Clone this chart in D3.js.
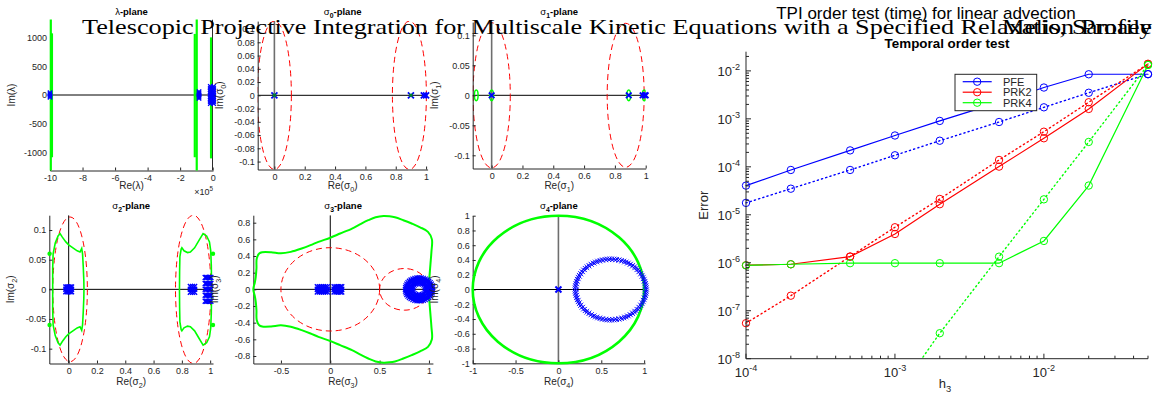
<!DOCTYPE html>
<html><head><meta charset="utf-8">
<script src="https://cdn.jsdelivr.net/npm/d3@7"></script>
<style>body{margin:0;background:#fff}</style>
</head><body>
<svg id="c" width="1159" height="399" xmlns="http://www.w3.org/2000/svg"></svg>
<script>
// ================= DATA =================
// Right chart: temporal order test
const hValues   = [1e-4, 2e-4, 5e-4, 1e-3, 2e-3, 5e-3, 1e-2, 2e-2, 5e-2];
const pfeSolid   = [4.06e-5, 8.6e-5, 2.2e-4, 4.5e-4, 9.06e-4, 2.2e-3, 4.5e-3, 8.5e-3, 8.5e-3];
const pfeDotted  = [1.77e-5, 3.5e-5, 8.6e-5, 1.74e-4, 3.5e-4, 8.6e-4, 1.74e-3, 3.5e-3, 8.6e-3];
const prk2Solid  = [8.9e-7, 9.3e-7, 1.34e-6, 3.98e-6, 1.66e-5, 1.01e-4, 3.94e-4, 1.61e-3, 1.4e-2];
const prk2Dotted = [5.5e-8, 2.06e-7, 1.35e-6, 5.5e-6, 2.14e-5, 1.39e-4, 5.4e-4, 2.22e-3, 1.4e-2];
const prk4Solid  = [8.8e-7, 9.3e-7, 9.8e-7, 9.8e-7, 9.8e-7, 9.8e-7, 2.85e-6, 4.07e-5, 1.33e-2];
const prk4Dotted = [4e-13, 6e-12, 1e-10, 1.6e-9, 3.4e-8, 1.34e-6, 2.1e-5, 3.3e-4, 1.33e-2];
const legendNames = ["PFE", "PRK2", "PRK4"];
const xMajorTicks = [1e-4, 1e-3, 1e-2];
const yMajorTicks = [1e-8, 1e-7, 1e-6, 1e-5, 1e-4, 1e-3, 1e-2];

// lambda-plane (Re in units of 1e5)
const lambdaGreenLines = [[-10, -1310, 1310], [-9.88, -1080, 1070], [-0.98, -1310, 1310], [-1.1, -1080, 1060], [-0.1, -1100, 1000]];
const lambdaEigClusters = [
  {re: -10,   im: [-40, -20, 0, 20, 40]},
  {re: -0.84, im: [-60, -40, -20, 0, 20, 40, 60]},
  {re: -0.15, im: [-150, -120, -90, -60, -30, 0, 30, 60, 90, 120, 150]},
  {re: 0.06,  im: [-150, -120, -90, -60, -30, 0, 30, 60, 90, 120, 150]}
];
// sigma_0-plane
const sigma0Circles = [{cx: 0, r: 0.112}, {cx: 0.89, r: 0.112}];
const sigma0Eig = [[0, 0], [0.9, 0], [0.985, 0], [1.0, 0]];
// sigma_1-plane
const sigma1Circles = [{cx: 0, r: 0.121}, {cx: 0.87, r: 0.12}];
const sigma1Loops = [{cx: -0.1, rx: 0.012, ry: 0.009}, {cx: 0, rx: 0.012, ry: 0.009}, {cx: 0.89, rx: 0.012, ry: 0.009}, {cx: 0.99, rx: 0.012, ry: 0.009}];
const sigma1Eig = [[0, 0], [0.89, 0], [0.98, 0], [0.995, 0], [1.0, 0]];
// sigma_2-plane
const sigma2Circles = [{cx: 0.01, r: 0.122}, {cx: 0.88, r: 0.125}];
const sigma2LeftUpper = [[-0.113,0],[-0.113,0.035],[-0.11,0.06],[-0.095,0.078],[-0.075,0.09],[-0.061,0.094],[-0.045,0.088],[-0.02,0.08],[0,0.075],[0.03,0.07],[0.06,0.065],[0.08,0.063],[0.092,0.069],[0.098,0.06],[0.103,0.038],[0.107,0.015],[0.108,0]];
const sigma2RightUpper = [[0.783,0],[0.784,0.03],[0.786,0.055],[0.795,0.068],[0.80,0.07],[0.815,0.065],[0.84,0.062],[0.86,0.063],[0.89,0.07],[0.92,0.082],[0.95,0.094],[0.975,0.09],[0.995,0.08],[1.004,0.065],[1.008,0.04],[1.01,0]];
const sigma2Dots = [[-0.135, 0.06], [-0.135, -0.06], [1.02, 0.06], [1.02, -0.06]];
const sigma2EigClusters = [
  {re: [-0.02, -0.01, 0, 0.01, 0.02], im: [-0.004, 0, 0.004]},
  {re: [0.86, 0.875, 0.89], im: [-0.005, 0, 0.005]},
  {re: [0.965, 0.975, 0.985, 0.995, 1.005], im: [-0.02, -0.01, 0, 0.01, 0.02]}
];
// sigma_3-plane
const sigma3Circles = [{cx: 0, r: 0.5}, {cx: 0.75, r: 0.25}];
const sigma3GreenUpper = [[-0.78,0],[-0.765,0.08],[-0.755,0.15],[-0.748,0.25],[-0.745,0.37],[-0.72,0.43],[-0.69,0.445],[-0.6,0.445],[-0.5,0.432],[-0.4,0.45],[-0.29,0.49],[-0.2,0.53],[-0.12,0.57],[0,0.62],[0.1,0.67],[0.22,0.73],[0.3,0.78],[0.385,0.83],[0.46,0.865],[0.54,0.88],[0.6,0.876],[0.655,0.865],[0.74,0.83],[0.825,0.79],[0.91,0.745],[0.99,0.69],[1.03,0.6],[1.025,0.45],[1.015,0.3],[1.005,0.15],[1.0,0.05],[1.0,0]];
const sigma3EigClusters = [
  {re: [-0.13, -0.11, -0.09, -0.07, -0.05, -0.03], im: [-0.03, 0, 0.03]},
  {re: [0.04, 0.06, 0.08, 0.1, 0.115], im: [-0.03, 0, 0.03]}
];
const sigma3EigRings = [{cx: 0.9, r: 0.07, n: 24}, {cx: 0.9, r: 0.095, n: 30}, {cx: 0.9, r: 0.12, n: 36}, {cx: 0.9, r: 0.14, n: 40}];
// sigma_4-plane
const sigma4Circles = [{cx: 0, r: 1}];
const sigma4EigRings = [{cx: 0.61, r: 0.40, n: 70}, {cx: 0.61, r: 0.42, n: 90}];
const sigma4Eig = [[0, 0]];

// ================= DRAWING =================
const svg = d3.select('#c');
const SANS = '"Liberation Sans", Arial, Helvetica, sans-serif';
const SERIF = '"Liberation Serif", "Times New Roman", serif';
const AX = '#262626';
const BLUE = '#0000ff', RED = '#ff0000', GREEN = '#00ff00';
const fmt = d => String(+(+d).toFixed(4));

function rich(sel, x, y, parts, size, opts = {}) {
  const t = sel.append('text').attr('x', x).attr('y', y)
    .attr('font-family', opts.family || SANS).attr('font-size', size)
    .attr('fill', opts.fill || AX).attr('text-anchor', opts.anchor || 'middle');
  if (opts.rotate) t.attr('transform', `rotate(-90,${x},${y})`);
  let shift = 0;
  parts.forEach(([s, type, w]) => {
    const ts = t.append('tspan').text(s);
    let target = 0, fs = size;
    if (type === 'sub') { target = size * 0.3; fs = size * 0.72; }
    if (type === 'sup') { target = -size * 0.45; fs = size * 0.7; }
    ts.attr('dy', target - shift).attr('font-size', fs);
    if (w) ts.attr('font-weight', w);
    shift = target;
  });
  return t;
}

let clipN = 0;
function panel(o) {
  const x = d3.scaleLinear().domain(o.xDom).range([o.left, o.right]);
  const y = d3.scaleLinear().domain(o.yDom).range([o.bottom, o.top]);
  const id = 'clp' + (clipN++);
  svg.append('clipPath').attr('id', id).append('rect')
    .attr('x', o.left).attr('y', o.top).attr('width', o.right - o.left).attr('height', o.bottom - o.top);
  const g = svg.append('g');
  const plot = g.append('g').attr('clip-path', `url(#${id})`);
  // zero lines
  plot.append('line').attr('x1', o.left).attr('x2', o.right).attr('y1', y(0)).attr('y2', y(0))
    .attr('stroke', '#000').attr('stroke-width', 1);
  plot.append('line').attr('x1', x(0)).attr('x2', x(0)).attr('y1', o.top).attr('y2', o.bottom)
    .attr('stroke', o.vColor || '#000').attr('stroke-width', o.vWidth || 1);
  // axes
  const xa = g.append('g').attr('transform', `translate(0,${o.bottom})`)
    .call(d3.axisBottom(x).tickValues(o.xTicks).tickFormat(fmt).tickSizeInner(-3).tickSizeOuter(0).tickPadding(4));
  const ya = g.append('g').attr('transform', `translate(${o.left},0)`)
    .call(d3.axisLeft(y).tickValues(o.yTicks).tickFormat(fmt).tickSizeInner(-3).tickSizeOuter(0).tickPadding(3));
  [xa, ya].forEach(a => {
    a.select('.domain').attr('stroke', AX);
    a.selectAll('.tick line').attr('stroke', AX);
    a.selectAll('text').attr('font-family', SANS).attr('font-size', 9).attr('fill', AX);
  });
  const cx = (o.left + o.right) / 2, cy = (o.top + o.bottom) / 2;
  rich(g, cx, o.titleY, o.title, 9.5, {fill: '#000'});
  rich(g, cx, o.xlabY, o.xlabel, 10);
  rich(g, o.left - 35, cy, o.ylabel, 10, {rotate: true});
  return {x, y, plot, g};
}

function xMarks(sel, pts, x, y, s, color, w) {
  sel.append('g').selectAll('path').data(pts).join('path')
    .attr('d', d => `M${x(d[0]) - s},${y(d[1]) - s}L${x(d[0]) + s},${y(d[1]) + s}M${x(d[0]) - s},${y(d[1]) + s}L${x(d[0]) + s},${y(d[1]) - s}`)
    .attr('stroke', color).attr('stroke-width', w).attr('fill', 'none');
}
function clusterPts(c) { const p = []; c.re.forEach(r => c.im.forEach(i => p.push([r, i]))); return p; }
function ringPts(rg) {
  const p = [];
  for (let k = 0; k < rg.n; k++) { const a = 2 * Math.PI * k / rg.n; p.push([rg.cx + rg.r * Math.cos(a), rg.r * Math.sin(a)]); }
  return p;
}
function redCircles(P, circles) {
  P.plot.append('g').selectAll('ellipse').data(circles).join('ellipse')
    .attr('cx', d => P.x(d.cx)).attr('cy', P.y(0))
    .attr('rx', d => P.x(d.cx + d.r) - P.x(d.cx)).attr('ry', d => P.y(0) - P.y(d.r))
    .attr('fill', 'none').attr('stroke', RED).attr('stroke-width', 1).attr('stroke-dasharray', '6,4');
}
function closedFromUpper(up) { return up.concat(up.slice().reverse().map(d => [d[0], -d[1]])); }

// ---------- Row 1 ----------
const A = panel({left: 50, right: 213, top: 19.5, bottom: 170.5, xDom: [-10, 0.02], yDom: [-1310, 1310],
  xTicks: [-10, -8, -6, -4, -2, 0], yTicks: [-1000, -500, 0, 500, 1000],
  title: [['λ'], ['-plane', null, 'bold']], titleY: 15,
  xlabel: [['Re(λ)']], xlabY: 189, ylabel: [['Im(λ)']]});
A.g.append('g').selectAll('line').data(lambdaGreenLines).join('line')
  .attr('x1', d => A.x(d[0]) + (d[0] === -10 ? 0.8 : 0)).attr('x2', d => A.x(d[0]) + (d[0] === -10 ? 0.8 : 0))
  .attr('y1', d => A.y(d[1])).attr('y2', d => A.y(d[2]))
  .attr('stroke', GREEN).attr('stroke-width', 2.2);
lambdaEigClusters.forEach(c => xMarks(A.g, c.im.map(i => [c.re, i]), A.x, A.y, 2.2, BLUE, 1.3));
rich(A.g, 213, 195, [['×10'], ['5', 'sup']], 9, {anchor: 'end'});

const B = panel({left: 257.7, right: 427.6, top: 21.1, bottom: 169.5, xDom: [-0.11, 1.01], yDom: [-0.112, 0.112],
  xTicks: [0, 0.2, 0.4, 0.6, 0.8, 1], yTicks: [-0.1, -0.08, -0.06, -0.04, -0.02, 0, 0.02, 0.04, 0.06, 0.08, 0.1],
  title: [['σ'], ['0', 'sub', 'bold'], ['-plane', null, 'bold']], titleY: 15,
  xlabel: [['Re('], ['σ'], ['0', 'sub'], [')']], xlabY: 189, ylabel: [['Im('], ['σ'], ['0', 'sub'], [')']],
  vColor: '#6e6e6e', vWidth: 1.6});
redCircles(B, sigma0Circles);
xMarks(B.g, sigma0Eig, B.x, B.y, 3, BLUE, 1.8);
xMarks(B.g, sigma0Eig.slice(0, 2), B.x, B.y, 1.6, '#00a000', 1.2);

const C = panel({left: 472.7, right: 645.7, top: 22.1, bottom: 168.5, xDom: [-0.123, 1.0], yDom: [-0.122, 0.122],
  xTicks: [0, 0.2, 0.4, 0.6, 0.8, 1], yTicks: [-0.1, -0.05, 0, 0.05, 0.1],
  title: [['σ'], ['1', 'sub', 'bold'], ['-plane', null, 'bold']], titleY: 15,
  xlabel: [['Re('], ['σ'], ['1', 'sub'], [')']], xlabY: 189, ylabel: [['Im('], ['σ'], ['1', 'sub'], [')']],
  vColor: '#6e6e6e', vWidth: 1.6});
redCircles(C, sigma1Circles);
C.plot.append('g').selectAll('ellipse').data(sigma1Loops).join('ellipse')
  .attr('cx', d => C.x(d.cx)).attr('cy', C.y(0))
  .attr('rx', d => C.x(d.cx + d.rx) - C.x(d.cx)).attr('ry', d => C.y(0) - C.y(d.ry))
  .attr('fill', 'none').attr('stroke', GREEN).attr('stroke-width', 1.5);
xMarks(C.g, sigma1Eig, C.x, C.y, 2.8, BLUE, 1.8);

// ---------- Row 2 ----------
const D = panel({left: 49.3, right: 213, top: 215.2, bottom: 363.5, xDom: [-0.137, 1.02], yDom: [-0.125, 0.125],
  xTicks: [0, 0.2, 0.4, 0.6, 0.8, 1], yTicks: [-0.1, -0.05, 0, 0.05, 0.1],
  title: [['σ'], ['2', 'sub', 'bold'], ['-plane', null, 'bold']], titleY: 209,
  xlabel: [['Re('], ['σ'], ['2', 'sub'], [')']], xlabY: 385, ylabel: [['Im('], ['σ'], ['2', 'sub'], [')']]});
redCircles(D, sigma2Circles);
const lineD = d3.line().x(d => D.x(d[0])).y(d => D.y(d[1]));
[sigma2LeftUpper, sigma2RightUpper].forEach(u => D.plot.append('path').attr('d', lineD(closedFromUpper(u)) + 'Z')
  .attr('fill', 'none').attr('stroke', GREEN).attr('stroke-width', 1.6));
D.g.append('g').selectAll('circle').data(sigma2Dots).join('circle')
  .attr('cx', d => D.x(d[0])).attr('cy', d => D.y(d[1])).attr('r', 2.2).attr('fill', GREEN);
sigma2EigClusters.forEach(c => xMarks(D.g, clusterPts(c), D.x, D.y, 2.5, BLUE, 1.4));

const E = panel({left: 253.3, right: 432.9, top: 215.2, bottom: 363.5, xDom: [-0.78, 1.04], yDom: [-0.89, 0.89],
  xTicks: [-0.5, 0, 0.5, 1], yTicks: [-0.8, -0.6, -0.4, -0.2, 0, 0.2, 0.4, 0.6, 0.8],
  title: [['σ'], ['3', 'sub', 'bold'], ['-plane', null, 'bold']], titleY: 209,
  xlabel: [['Re('], ['σ'], ['3', 'sub'], [')']], xlabY: 385, ylabel: [['Im('], ['σ'], ['3', 'sub'], [')']]});
redCircles(E, sigma3Circles);
const lineE = d3.line().x(d => E.x(d[0])).y(d => E.y(d[1])).curve(d3.curveCatmullRomClosed);
E.g.append('path').attr('d', lineE(closedFromUpper(sigma3GreenUpper).slice(0, -1)))
  .attr('fill', 'none').attr('stroke', GREEN).attr('stroke-width', 2);
sigma3EigClusters.forEach(c => xMarks(E.g, clusterPts(c), E.x, E.y, 2.6, BLUE, 1.4));
sigma3EigRings.forEach(r => xMarks(E.g, ringPts(r), E.x, E.y, 2.4, BLUE, 1.2));

const F = panel({left: 472.7, right: 645, top: 215.7, bottom: 363.3, xDom: [-1, 1.01], yDom: [-1, 1],
  xTicks: [-1, -0.5, 0, 0.5, 1], yTicks: [-1, -0.8, -0.6, -0.4, -0.2, 0, 0.2, 0.4, 0.6, 0.8, 1],
  title: [['σ'], ['4', 'sub', 'bold'], ['-plane', null, 'bold']], titleY: 209,
  xlabel: [['Re('], ['σ'], ['4', 'sub'], [')']], xlabY: 385, ylabel: [['Im('], ['σ'], ['4', 'sub'], [')']],
  vColor: '#6e6e6e', vWidth: 1.6});
F.g.append('g').selectAll('ellipse').data(sigma4Circles).join('ellipse')
  .attr('cx', d => F.x(d.cx)).attr('cy', F.y(0))
  .attr('rx', d => F.x(d.cx + d.r) - F.x(d.cx)).attr('ry', d => F.y(0) - F.y(d.r))
  .attr('fill', 'none').attr('stroke', GREEN).attr('stroke-width', 2.6);
sigma4EigRings.forEach(r => xMarks(F.g, ringPts(r), F.x, F.y, 2, BLUE, 0.9));
xMarks(F.g, sigma4Eig, F.x, F.y, 3, BLUE, 2);

// ---------- Right chart ----------
const R = {left: 746, right: 1148, top: 51.7, bottom: 358.7};
const rx = d3.scaleLog().domain([1e-4, 5e-2]).range([R.left, R.right]);
const ry = d3.scaleLog().domain([1e-8, Math.pow(10, -1.6)]).range([R.bottom, R.top]);
const rg = svg.append('g');
svg.append('clipPath').attr('id', 'rclip').append('rect')
  .attr('x', R.left - 10).attr('y', R.top).attr('width', R.right - R.left + 20).attr('height', R.bottom - R.top);
const rplot = rg.append('g').attr('clip-path', 'url(#rclip)');

const series = [
  {v: pfeSolid, c: BLUE, dash: null}, {v: pfeDotted, c: BLUE, dash: '1.2,3.2'},
  {v: prk2Solid, c: RED, dash: null}, {v: prk2Dotted, c: RED, dash: '1.2,3.2'},
  {v: prk4Solid, c: GREEN, dash: null}, {v: prk4Dotted, c: GREEN, dash: '1.2,3.2'}
];
const rline = d3.line().x((d, i) => rx(hValues[i])).y(d => ry(d));
series.forEach(s => {
  rplot.append('path').attr('d', rline(s.v)).attr('fill', 'none').attr('stroke', s.c)
    .attr('stroke-width', s.dash ? 1.4 : 1.2).attr('stroke-dasharray', s.dash).attr('stroke-linecap', 'round');
});
series.forEach(s => {
  rg.append('g').selectAll('circle').data(s.v.map((v, i) => [hValues[i], v]).filter(d => d[1] >= 1e-8))
    .join('circle').attr('cx', d => rx(d[0])).attr('cy', d => ry(d[1])).attr('r', 3.7)
    .attr('fill', 'none').attr('stroke', s.c).attr('stroke-width', 1);
});

// axes lines
rg.append('line').attr('x1', R.left).attr('x2', R.left).attr('y1', R.top).attr('y2', R.bottom).attr('stroke', AX);
rg.append('line').attr('x1', R.left).attr('x2', R.right).attr('y1', R.bottom).attr('y2', R.bottom).attr('stroke', AX);
// x ticks
const xMinor = [];
[1e-4, 1e-3, 1e-2].forEach(b => [2, 3, 4, 5, 6, 7, 8, 9].forEach(m => { const v = b * m; if (v <= 5e-2 + 1e-12) xMinor.push(v); }));
rg.append('g').selectAll('line').data(xMinor).join('line')
  .attr('x1', d => rx(d)).attr('x2', d => rx(d)).attr('y1', R.bottom).attr('y2', R.bottom - 3).attr('stroke', AX);
rg.append('g').selectAll('line').data(xMajorTicks).join('line')
  .attr('x1', d => rx(d)).attr('x2', d => rx(d)).attr('y1', R.bottom).attr('y2', R.bottom - 5).attr('stroke', AX);
xMajorTicks.forEach(v => rich(rg, rx(v), 377, [['10'], [String(Math.round(Math.log10(v))), 'sup']], 13));
// y ticks
const yMinor = [];
yMajorTicks.forEach(b => [2, 3, 4, 5, 6, 7, 8, 9].forEach(m => { const v = b * m; if (v <= Math.pow(10, -1.6)) yMinor.push(v); }));
rg.append('g').selectAll('line').data(yMinor).join('line')
  .attr('x1', R.left).attr('x2', R.left + 3).attr('y1', d => ry(d)).attr('y2', d => ry(d)).attr('stroke', AX);
rg.append('g').selectAll('line').data(yMajorTicks).join('line')
  .attr('x1', R.left).attr('x2', R.left + 5).attr('y1', d => ry(d)).attr('y2', d => ry(d)).attr('stroke', AX);
yMajorTicks.forEach(v => rich(rg, R.left - 6, ry(v) + 5, [['10'], [String(Math.round(Math.log10(v))), 'sup']], 13, {anchor: 'end'}));
// labels
rich(rg, 945, 388, [['h'], ['3', 'sub']], 13);
rich(rg, 708, (R.top + R.bottom) / 2, [['Error']], 13, {rotate: true});
rg.append('text').attr('x', (R.left + R.right) / 2).attr('y', 48).attr('text-anchor', 'middle')
  .attr('font-family', SANS).attr('font-size', 13.4).attr('font-weight', 'bold').attr('fill', '#000').text('Temporal order test');
// legend
const L = {x: 955, y: 74.3, w: 81.7, h: 36.4};
const lg = rg.append('g');
lg.append('rect').attr('x', L.x).attr('y', L.y).attr('width', L.w).attr('height', L.h)
  .attr('fill', '#fff').attr('stroke', AX).attr('stroke-width', 1);
const legColors = [BLUE, RED, GREEN];
legendNames.forEach((n, i) => {
  const yy = L.y + 7.4 + i * 10.5;
  lg.append('line').attr('x1', L.x + 7.7).attr('x2', L.x + 36.7).attr('y1', yy).attr('y2', yy).attr('stroke', legColors[i]).attr('stroke-width', 1.2);
  lg.append('circle').attr('cx', L.x + 22.2).attr('cy', yy).attr('r', 3.7).attr('fill', 'none').attr('stroke', legColors[i]);
  lg.append('text').attr('x', L.x + 48).attr('y', yy + 4).attr('font-family', SANS).attr('font-size', 11).attr('fill', AX).text(n);
});

// ---------- Overlaid page titles ----------
svg.append('text').attr('x', 926).attr('y', 19).attr('text-anchor', 'middle')
  .attr('font-family', SANS).attr('font-size', 17).attr('fill', '#000').text('TPI order test (time) for linear advection');
svg.append('text').attr('x', 82).attr('y', 34).attr('font-family', SERIF).attr('font-size', 22).attr('fill', '#000')
  .attr('textLength', 1070).attr('lengthAdjust', 'spacingAndGlyphs')
  .text('Telescopic Projective Integration for Multiscale Kinetic Equations with a Specified Relaxation Profile');
svg.append('text').attr('x', 1152).attr('y', 34).attr('text-anchor', 'end').attr('font-family', SERIF).attr('font-size', 22).attr('fill', '#000')
  .attr('textLength', 150).attr('lengthAdjust', 'spacingAndGlyphs').text('Melis, Samaey');
</script>
</body></html>
